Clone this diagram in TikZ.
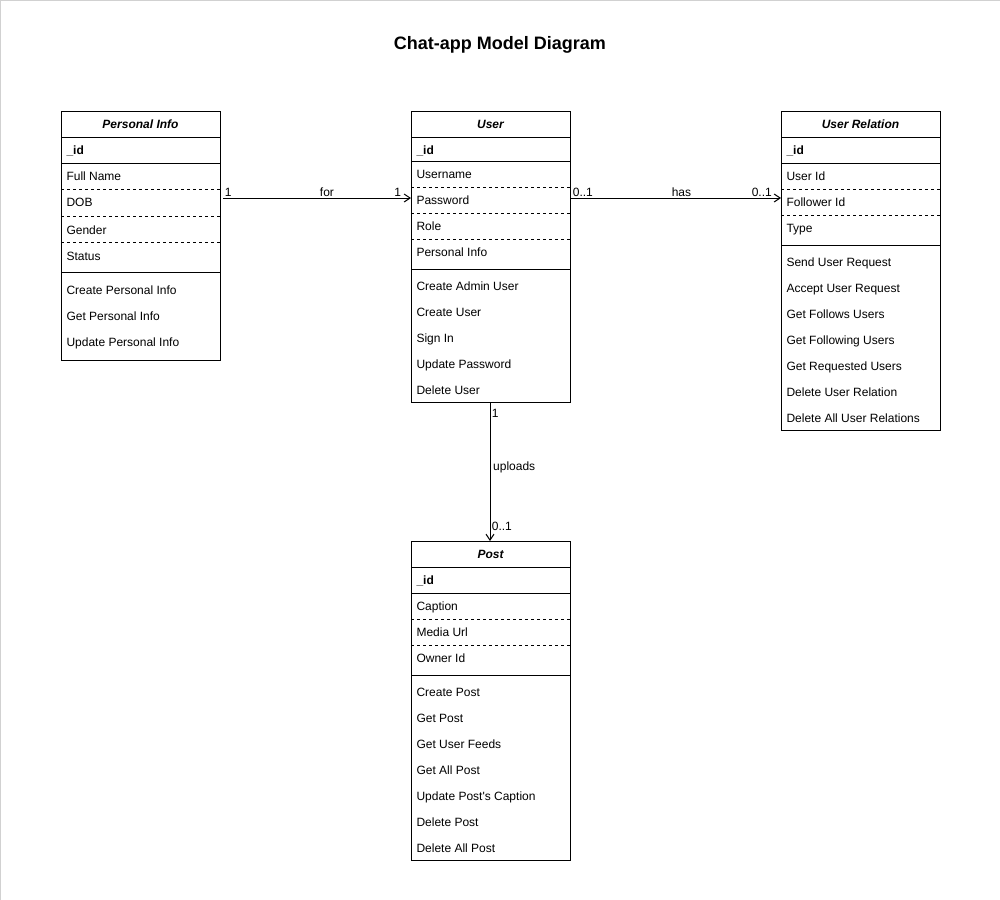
\documentclass[tikz,border=0pt]{standalone}
\usepackage{fontspec}
\setmainfont{Liberation Sans}
\usetikzlibrary{arrows.meta}

\tikzset{
  cls/.style={draw, anchor=north west, minimum width=119.25pt, inner sep=0pt},
  field/.style={anchor=west, inner sep=0pt, text height=6.5pt, text depth=0pt,
    font=\fontsize{9}{11}\selectfont},
  keyfield/.style={field, font=\fontsize{9}{11}\selectfont\bfseries},
  head/.style={inner sep=0pt, text height=6.5pt, text depth=0pt,
    font=\fontsize{9}{11}\selectfont\bfseries\itshape},
  sep/.style={dash pattern=on 2.25pt off 2.25pt},
  assoc/.style={-{Straight Barb[length=4.5pt,width=6pt]}},
  mult/.style={inner sep=1pt, font=\fontsize{9}{11}\selectfont}
}

\begin{document}
\begin{tikzpicture}[x=0.75pt, y=-0.75pt, line width=0.75pt]
  \useasboundingbox (0,0) rectangle (1000,900);
  \draw[black!18] (0.5,900) -- (0.5,0.5) -- (1000,0.5);

  \node[font=\fontsize{13.5}{16}\selectfont\bfseries] (title) at (500,45) {Chat-app Model Diagram};

  % Personal Info
  \node[cls, minimum height=186.75pt] (pinfo) at (61,111) {};
  \node[head] (pinfo-head) at (140.5,124) {Personal Info};
  \foreach \y in {137,163,272} \draw (61,\y) -- (220,\y);
  \foreach \y in {189,216,242} \draw[sep] (61,\y) -- (220,\y);
  \node[keyfield] (pinfo-id) at (66,150) {\_id};
  \foreach \t/\y [count=\i] in {Full Name/176,DOB/202,Gender/230,Status/256}
    \node[field] (pinfo-f\i) at (66,\y) {\t};
  \foreach \t/\y [count=\i] in {Create Personal Info/290,Get Personal Info/316,Update Personal Info/342}
    \node[field] (pinfo-m\i) at (66,\y) {\t};

  % User
  \node[cls, minimum height=218.25pt] (user) at (411,111) {};
  \node[head] (user-head) at (490.5,124) {User};
  \foreach \y in {137,161,269} \draw (411,\y) -- (570,\y);
  \foreach \y in {187,213,239} \draw[sep] (411,\y) -- (570,\y);
  \node[keyfield] (user-id) at (416,150) {\_id};
  \foreach \t/\y [count=\i] in {Username/174,Password/200,Role/226,Personal Info/252}
    \node[field] (user-f\i) at (416,\y) {\t};
  \foreach \t/\y [count=\i] in {Create Admin User/286,Create User/312,Sign In/338,Update Password/364,Delete User/390}
    \node[field] (user-m\i) at (416,\y) {\t};

  % User Relation
  \node[cls, minimum height=239.25pt] (rel) at (781,111) {};
  \node[head] (rel-head) at (860.5,124) {User Relation};
  \foreach \y in {137,163,245} \draw (781,\y) -- (940,\y);
  \foreach \y in {189,215} \draw[sep] (781,\y) -- (940,\y);
  \node[keyfield] (rel-id) at (786,150) {\_id};
  \foreach \t/\y [count=\i] in {User Id/176,Follower Id/202,Type/228}
    \node[field] (rel-f\i) at (786,\y) {\t};
  \foreach \t/\y [count=\i] in {Send User Request/262,Accept User Request/288,Get Follows Users/314,Get Following Users/340,Get Requested Users/366,Delete User Relation/392,Delete All User Relations/418}
    \node[field] (rel-m\i) at (786,\y) {\t};

  % Post
  \node[cls, minimum height=239.25pt] (post) at (411,541) {};
  \node[head] (post-head) at (490.5,554) {Post};
  \foreach \y in {567,593,675} \draw (411,\y) -- (570,\y);
  \foreach \y in {619,645} \draw[sep] (411,\y) -- (570,\y);
  \node[keyfield] (post-id) at (416,580) {\_id};
  \foreach \t/\y [count=\i] in {Caption/606,Media Url/632,Owner Id/658}
    \node[field] (post-f\i) at (416,\y) {\t};
  \foreach \t/\y [count=\i] in {Create Post/692,Get Post/718,Get User Feeds/744,Get All Post/770,Update Post\textquotesingle s Caption/796,Delete Post/822,Delete All Post/848}
    \node[field] (post-m\i) at (416,\y) {\t};

  % associations
  \coordinate (link-y) at (0,198);
  \draw[assoc] ([xshift=1.5pt]pinfo.east |- link-y) -- (user.west |- link-y)
    node[mult, pos=0, anchor=south west] {1}
    node[mult, pos=0.553, anchor=south] {for}
    node[mult, pos=1, anchor=south east, xshift=-6pt] {1};
  \draw[assoc] (user.east |- link-y) -- (rel.west |- link-y)
    node[mult, pos=0, anchor=south west] {0..1}
    node[mult, pos=0.526, anchor=south] {has}
    node[mult, pos=1, anchor=south east, xshift=-5.5pt] {0..1};
  \draw[assoc] (user.south -| 490,0) -- (post.north -| 490,0)
    node[mult, pos=0, anchor=north west, yshift=-3pt] {1}
    node[mult, pos=0.47, anchor=west, xshift=1pt] {uploads}
    node[mult, pos=1, anchor=south west, yshift=6.5pt] {0..1};
\end{tikzpicture}
\end{document}
